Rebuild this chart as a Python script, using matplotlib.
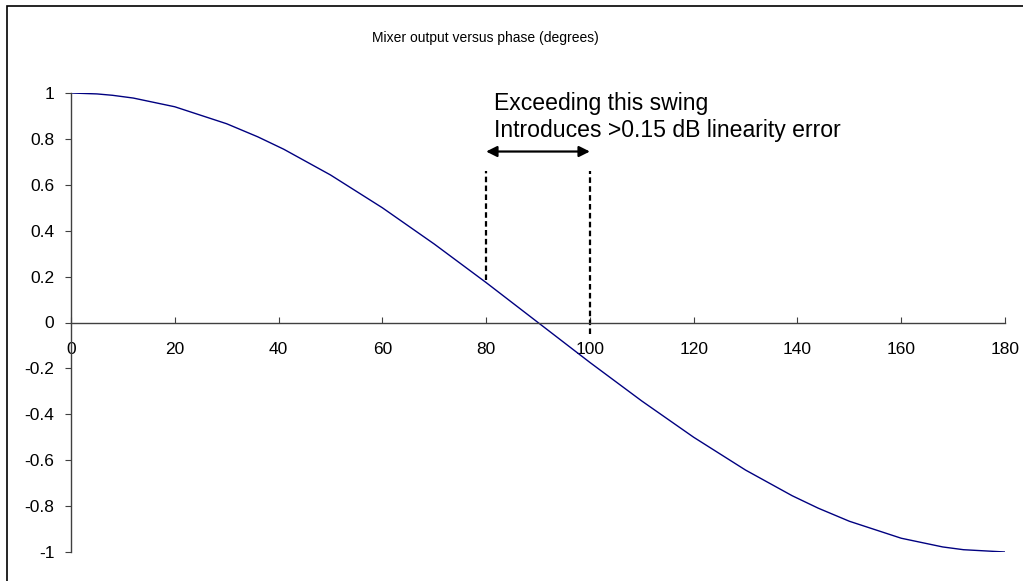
import matplotlib
matplotlib.use("Agg")
import matplotlib.pyplot as plt
from matplotlib.patches import Rectangle

plt.rcParams["font.family"] = ["Liberation Sans", "DejaVu Sans"]
plt.rcParams["axes.unicode_minus"] = False

# phase in degrees and mixer output
phase = [0, 5, 8, 12, 20, 30, 36, 41, 50, 60, 70, 80, 90, 100, 110, 120,
         130, 139, 144, 150, 160, 168, 172, 180]
output = [1.0, 0.996, 0.990, 0.978, 0.940, 0.866, 0.809, 0.755, 0.643, 0.5,
          0.342, 0.174, 0.0, -0.174, -0.342, -0.5, -0.643, -0.755, -0.809,
          -0.866, -0.940, -0.978, -0.990, -1.0]

x_ticks = [0, 20, 40, 60, 80, 100, 120, 140, 160, 180]
y_ticks = [-1, -0.8, -0.6, -0.4, -0.2, 0, 0.2, 0.4, 0.6, 0.8, 1]

swing_lo, swing_hi = 80, 100
note = "Exceeding this swing\nIntroduces >0.15 dB linearity error"

fig = plt.figure(figsize=(10.23, 5.81), dpi=100)
ax = fig.add_axes([71 / 1023, 1 - 552 / 581, (1005 - 71) / 1023, (552 - 93) / 581])

ax.plot(phase, output, color="#000080", linewidth=1.0)

ax.set_xlim(0, 180)
ax.set_ylim(-1, 1)

ax.spines["top"].set_visible(False)
ax.spines["right"].set_visible(False)
ax.spines["bottom"].set_position(("data", 0))
for s in ("left", "bottom"):
    ax.spines[s].set_color("#404040")
    ax.spines[s].set_linewidth(1.0)

ax.set_xticks(x_ticks)
ax.set_xticklabels([str(v) for v in x_ticks])
ax.set_yticks(y_ticks)
ax.set_yticklabels([f"{v:g}" for v in y_ticks])
ax.tick_params(axis="x", direction="in", length=4, pad=14, labelsize=12.5, color="#404040")
ax.tick_params(axis="y", direction="out", length=4, pad=8, labelsize=12.5, color="#404040")

# swing markers
ax.vlines(swing_lo, 0.187, 0.658, colors="black", linestyles=(0, (2.5, 1.5)), linewidth=1.6)
ax.vlines(swing_hi, -0.05, 0.658, colors="black", linestyles=(0, (2.5, 1.5)), linewidth=1.6)
ax.annotate("", xy=(swing_lo, 0.745), xytext=(swing_hi, 0.745),
            arrowprops=dict(arrowstyle="<|-|>", color="black", lw=1.6,
                            mutation_scale=16, shrinkA=0, shrinkB=0))
ax.text(81.5, 1.005, note, fontsize=16.6, ha="left", va="top", linespacing=1.25)

fig.text(485 / 1023, 1 - 38 / 581, "Mixer output versus phase (degrees)",
         fontsize=10, ha="center", va="center")

fig.patches.append(Rectangle((7 / 1023, -0.05), 1.1, 1 - 6 / 581 + 0.05,
                             transform=fig.transFigure, fill=False,
                             edgecolor="black", linewidth=1.2))

fig.savefig("out.png", dpi=100)
